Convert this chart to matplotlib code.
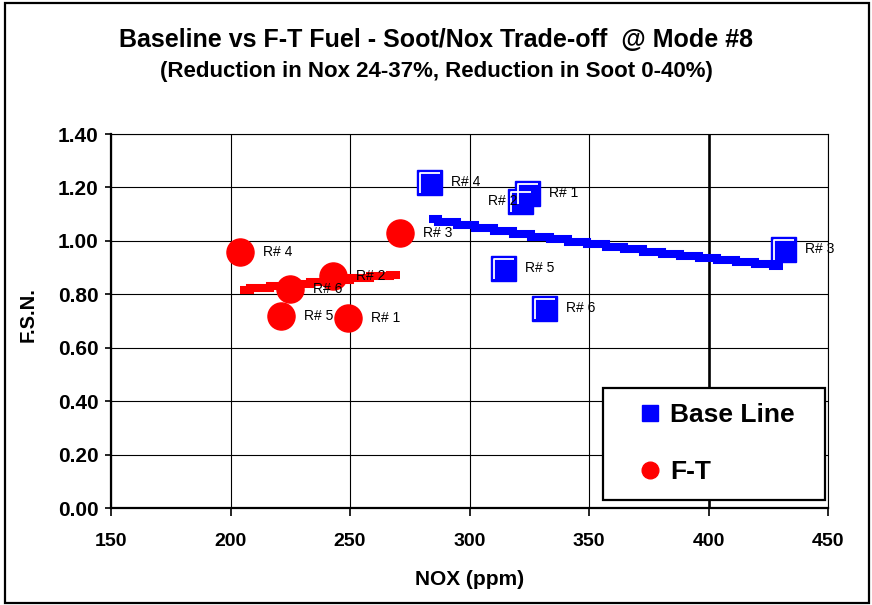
import numpy as np
import matplotlib.pyplot as plt
from matplotlib.lines import Line2D
from matplotlib.path import Path
from matplotlib.patches import Rectangle

plt.rcParams['font.family'] = ['Liberation Sans', 'DejaVu Sans']

# run numbers R# 1 .. R# 6
runs = ['R# 1', 'R# 2', 'R# 3', 'R# 4', 'R# 5', 'R# 6']
base_nox = [324, 321, 431, 283, 314, 331]
base_fsn = [1.18, 1.15, 0.97, 1.22, 0.90, 0.75]
ft_nox = [249, 243, 271, 204, 221, 225]
ft_fsn = [0.71, 0.87, 1.03, 0.96, 0.72, 0.82]

x_ticks = [150, 200, 250, 300, 350, 400, 450]
y_ticks = [0.0, 0.2, 0.4, 0.6, 0.8, 1.0, 1.2, 1.4]

BLUE = '#0000ff'
RED = '#ff0000'

# white "highlight" L on the top-left of the square markers (excel 3d look)
hl_path = Path([(1, 1), (-1, -1), (-0.72, -0.86), (-0.72, 0.72), (0.86, 0.72)],
               [Path.MOVETO, Path.MOVETO, Path.MOVETO, Path.LINETO, Path.LINETO])


def power_trend(x, y, n):
    # y = a * x^b, same as excel's power trendline
    b, lna = np.polyfit(np.log(x), np.log(y), 1)
    xs = np.linspace(min(x), max(x), n)
    return xs, np.exp(lna) * xs ** b


fig = plt.figure(figsize=(8.72, 6.05), dpi=100)
ax = fig.add_axes([111 / 872, 1 - 508 / 605, 717 / 872, 374 / 605])

ax.set_xlim(150, 450)
ax.set_ylim(0, 1.4)
ax.set_xticks(x_ticks)
ax.set_yticks(y_ticks)
ax.set_yticklabels(['%.2f' % v for v in y_ticks])
ax.tick_params(axis='x', direction='out', length=6, width=1.2, pad=12, labelsize=14)
ax.tick_params(axis='y', direction='out', length=4, width=1.2, pad=5, labelsize=15)
for lab in ax.get_xticklabels() + ax.get_yticklabels():
    lab.set_fontweight('bold')

ax.grid(True, color='black', linewidth=0.8)
ax.set_axisbelow(True)
# the 400 gridline is heavier
for tick in ax.xaxis.get_major_ticks():
    if tick.get_loc() == 400:
        tick.gridline.set_linewidth(1.9)
for side in ['left', 'bottom']:
    ax.spines[side].set_linewidth(1.6)
for side in ['top', 'right']:
    ax.spines[side].set_linewidth(0.8)

# trend lines, drawn in steps like the old excel renderer
bx, by = power_trend(base_nox, base_fsn, 20)
ax.plot(bx, by, color=BLUE, linewidth=5.8, drawstyle='steps-mid',
        solid_capstyle='butt', solid_joinstyle='miter', zorder=2)
fx, fy = power_trend(ft_nox, ft_fsn, 9)
ax.plot(fx, fy, color=RED, linewidth=5.8, drawstyle='steps-mid',
        solid_capstyle='butt', solid_joinstyle='miter', zorder=2)

# markers
ax.plot(base_nox, base_fsn, linestyle='none', marker='s', markersize=18,
        markerfacecolor=BLUE, markeredgecolor=BLUE, zorder=3)
ax.plot(base_nox, base_fsn, linestyle='none', marker=hl_path, markersize=18,
        markerfacecolor='none', markeredgecolor='white', markeredgewidth=1.3, zorder=3.1)
ax.plot(ft_nox, ft_fsn, linestyle='none', marker='o', markersize=19.5,
        markerfacecolor=RED, markeredgecolor=RED, zorder=3)

# run labels
for i, r in enumerate(runs):
    if r == 'R# 2':
        ax.annotate(r, (base_nox[i], base_fsn[i]), xytext=(-1.5, 0), textcoords='offset points',
                    ha='right', va='center', fontsize=10, zorder=5)
    else:
        ax.annotate(r, (base_nox[i], base_fsn[i]), xytext=(16, 0), textcoords='offset points',
                    ha='left', va='center', fontsize=10, zorder=5)
    ax.annotate(r, (ft_nox[i], ft_fsn[i]), xytext=(16.5, 0), textcoords='offset points',
                ha='left', va='center', fontsize=10, zorder=5)

ax.set_xlabel('NOX (ppm)', fontsize=15, fontweight='bold')
ax.xaxis.set_label_coords(0.5, -0.166)
ax.set_ylabel('F.S.N.', fontsize=14.5, fontweight='bold')
ax.yaxis.set_label_coords(-0.103, 0.516)

handles = [Line2D([], [], linestyle='none', marker='s', markersize=11.5,
                  markerfacecolor=BLUE, markeredgecolor=BLUE),
           Line2D([], [], linestyle='none', marker='o', markersize=12,
                  markerfacecolor=RED, markeredgecolor=RED)]
leg = ax.legend(handles, ['Base Line', 'F-T'], loc='upper left',
                bbox_to_anchor=(0.686, 0.322, 0.31, 0.0), mode='expand', borderaxespad=0,
                prop={'weight': 'bold', 'size': 19}, frameon=True, fancybox=False,
                edgecolor='black', facecolor='white', framealpha=1, borderpad=0.6,
                labelspacing=1.25, handlelength=2.4, handletextpad=-0.45)
leg.get_frame().set_linewidth(1.6)
leg.set_zorder(6)

fig.text(0.5, 1 - 40 / 605, 'Baseline vs F-T Fuel - Soot/Nox Trade-off  @ Mode #8',
         ha='center', va='center', fontsize=18, fontweight='bold')
fig.text(0.5, 1 - 72 / 605, '(Reduction in Nox 24-37%, Reduction in Soot 0-40%)',
         ha='center', va='center', fontsize=16, fontweight='bold')

# chart border
fig.patches.append(Rectangle((5 / 872, 2 / 605), 864 / 872, 600 / 605, transform=fig.transFigure,
                             fill=False, edgecolor='black', linewidth=1.6))

fig.savefig('out.png', dpi=100)
